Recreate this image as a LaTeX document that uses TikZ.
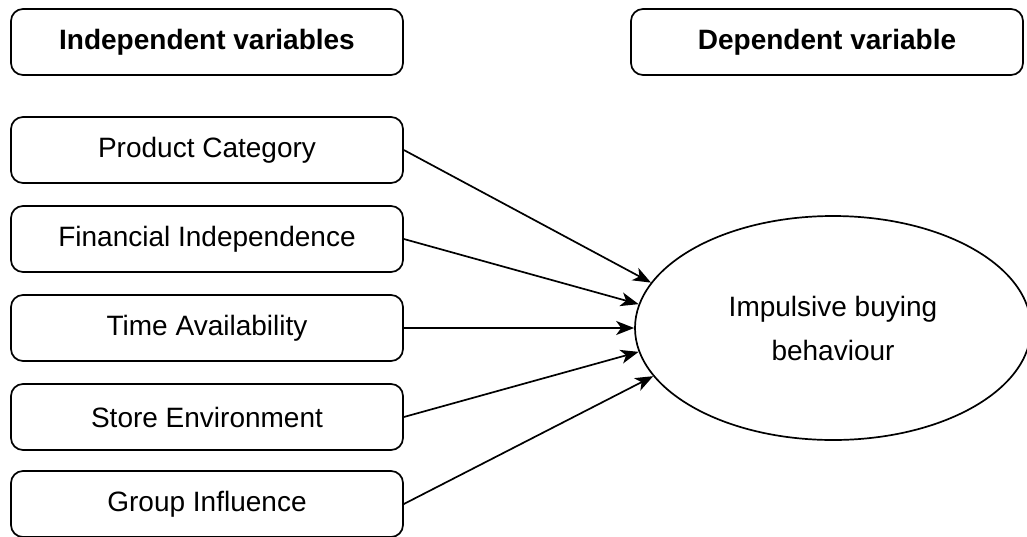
\documentclass[tikz,border=0pt]{standalone}
\usepackage{fontspec}
\setmainfont{Liberation Sans}
\usetikzlibrary{shapes.geometric,arrows.meta}

\begin{document}
\begin{tikzpicture}[x=1pt,y=1pt,
    varbox/.style={draw,line width=1.7pt,rounded corners=12pt,minimum width=392pt,minimum height=66pt,inner sep=0pt,font=\fontsize{28}{34}\selectfont},
    headbox/.style={varbox,font=\fontsize{28}{34}\selectfont\bfseries},
    link/.style={line width=1.7pt,-{Stealth[length=18pt,width=14pt,inset=5pt]}}]
            \useasboundingbox (0,0) rectangle (1027,-536);
            \node[headbox] at (207,-42) (indep) {Independent variables};
            \node[headbox] at (827,-42) (dep) {Dependent variable};
            \node[varbox] at (207,-150) (prod) {Product Category};
            \node[varbox] at (207,-239) (fin) {Financial Independence};
            \node[varbox] at (207,-328) (time) {Time Availability};
            \node[varbox] at (207,-417) (store) {Store Environment};
            \node[varbox] at (207,-504) (group) {Group Influence};
            \node[draw,ellipse,line width=1.7pt,minimum width=396pt,minimum height=224pt,inner sep=0pt,align=center,font=\fontsize{28}{44}\selectfont] at (833,-328) (ibb) {Impulsive buying\\behaviour};
            \draw[link] (prod.east) to (ibb.166);
            \draw[link] (fin.east) to (ibb.173);
            \draw[link] (time.east) to (ibb.180);
            \draw[link] (store.east) to (ibb.187);
            \draw[link] (group.east) to (ibb.195);
        \end{tikzpicture}
\end{document}
